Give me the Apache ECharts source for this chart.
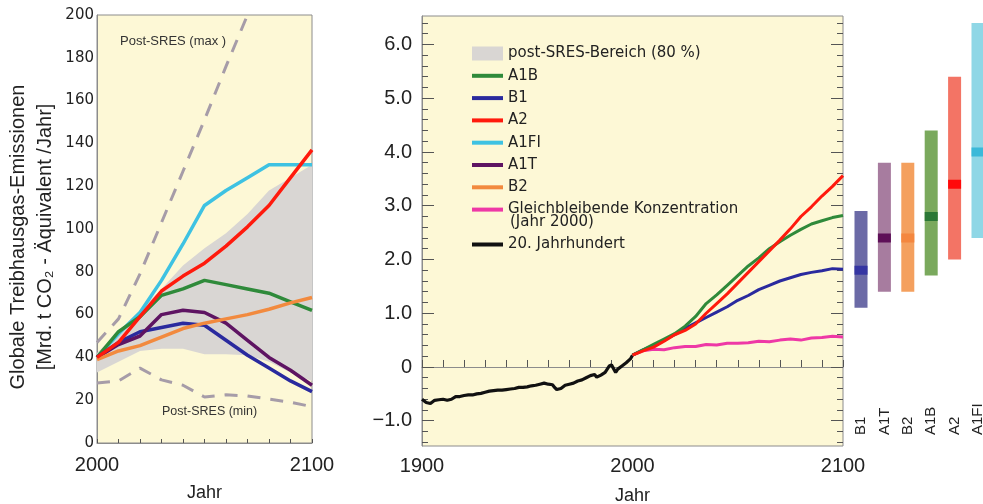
<!DOCTYPE html>
<html><head><meta charset="utf-8">
<script src="https://cdn.jsdelivr.net/npm/echarts@6/dist/echarts.min.js"></script>
<style>html,body{margin:0;padding:0;background:#fff}#c{width:983px;height:504px}</style>
</head><body><div id="c"></div><script>
// ---- Left panel: emissions (Mrd. t CO2-Äq./Jahr)
const emisYears = [2000,2010,2020,2030,2040,2050,2060,2070,2080,2090,2100];
const emisA1FI = [40,51,61,76,93,111,118,124,130,130,130];
const emisA2   = [40,47,59,71,78,84,92,101,111,124,137];
const emisA1B  = [40,52,59,69,72,76,74,72,70,66,62];
const emisA1T  = [40,46,50,60,62,61,56,48,40,34,27];
const emisB1   = [40,47,52,54,56,55,48,41,35,29,24];
const emisB2   = [39,43,45.5,49.5,53.5,56,58,60,62.5,65.5,68];
const bandLow  = [33,38,43,44,44,41.5,41.5,41,38,33,29];
const bandHigh = [42,52,62,72,83,91,98,107,118,124,130];
const postMaxYears = [2000,2010,2020,2030,2040,2050,2060,2070];
const postMax  = [47,58,79,103,127,151,176,200];
const postMin  = [28,29,35,29.5,27,21.5,22.5,22,20.5,19,17];
const emisXLabels = [2000,2100];

// ---- Middle panel: temperature (°C)
const histYears = [1900,1902,1904,1906,1908,1910,1912,1914,1916,1918,1920,1922,1924,1926,1928,1930,1932,1934,1936,1938,1940,1942,1944,1946,1948,1950,1952,1954,1956,1958,1960,1962,1963,1964,1966,1968,1970,1972,1974,1976,1978,1980,1982,1983,1985,1987,1989,1990,1991,1992,1993,1995,1997,1999,2000];
const histTemp = [-0.60,-0.66,-0.68,-0.62,-0.61,-0.60,-0.62,-0.60,-0.55,-0.55,-0.53,-0.52,-0.52,-0.50,-0.49,-0.47,-0.45,-0.44,-0.43,-0.43,-0.42,-0.41,-0.40,-0.38,-0.38,-0.37,-0.35,-0.34,-0.32,-0.30,-0.32,-0.33,-0.38,-0.42,-0.40,-0.34,-0.32,-0.30,-0.26,-0.24,-0.20,-0.16,-0.14,-0.19,-0.15,-0.10,0.02,0.04,-0.03,-0.10,-0.04,0.02,0.08,0.15,0.22];
const scenYears = [2000,2005,2010,2015,2020,2025,2030,2035,2040,2045,2050,2055,2060,2065,2070,2075,2080,2085,2090,2095,2100];
const tA2    = [0.22,0.30,0.37,0.48,0.60,0.68,0.80,1.00,1.18,1.36,1.56,1.76,1.96,2.16,2.36,2.57,2.80,2.98,3.18,3.36,3.56];
const tA1B   = [0.22,0.32,0.42,0.52,0.62,0.76,0.94,1.18,1.34,1.52,1.70,1.88,2.03,2.20,2.33,2.45,2.56,2.66,2.72,2.78,2.82];
const tB1    = [0.22,0.32,0.40,0.50,0.60,0.72,0.82,0.92,1.02,1.12,1.24,1.33,1.44,1.52,1.60,1.66,1.72,1.76,1.79,1.83,1.82];
const tConst = [0.22,0.30,0.33,0.32,0.36,0.38,0.38,0.42,0.41,0.44,0.44,0.45,0.48,0.47,0.50,0.52,0.50,0.54,0.55,0.57,0.56];
const tempYTicks = [-1,0,1,2,3,4,5,6];
const tempXLabels = [1900,2000,2100];

// ---- Right panel: likely ranges (°C)
const rangeNames = ['B1','A1T','B2','A1B','A2','A1FI'];
const rangeIdx  = [0,1,2,3,4,5];
const rangeLow  = [1.1,1.4,1.4,1.7,2.0,2.4];
const rangeHigh = [2.9,3.8,3.8,4.4,5.4,6.4];
const rangeBest = [1.8,2.4,2.4,2.8,3.4,4.0];

// ---- styles
const C = {A1B:'#2f8a3a', B1:'#2a2a9e', A2:'#ff1a0d', A1FI:'#3ec2e2', A1T:'#5e1462', B2:'#f28a3e',
           konst:'#ee38a6', hist:'#111111', band:'#d9d6d3', dash:'#a69ca8', bg:'#fdf8d6'};
const barColors  = ['#6b6aa6','#a77c9f','#f4a05e','#7aa95d','#f37465','#8fd7e6'];
const bestColors = ['#3535a2','#5e1058','#f4873f','#2b7736','#ff0a0a','#3bb9d9'];
const FONT = '"Liberation Sans", Arial, sans-serif';
const WIDE = '"DejaVu Sans", sans-serif';
const zip = (xs, ys) => xs.map((x,i)=>[x, ys[i]]);
const LINEICON = 'path://M0 0H31V4H0Z';

const minorTicks = [];
for (let k = -7; k <= 32; k++) minorTicks.push(Math.round(k*0.2*10)/10);
const TMIN = -1.47, TMAX = 6.53;
const tempFmt = v => v === 0 ? '0' : (v < 0 ? '\u2212' : '') + Math.abs(v).toFixed(1);
const plain = v => String(v);

function lineS(name, xi, yi, data, color, w, extra) {
  return Object.assign({type:'line', name, xAxisIndex:xi, yAxisIndex:yi, data, showSymbol:false, symbol:'none',
    lineStyle:{color, width:w}, itemStyle:{color}, silent:true, emphasis:{disabled:true}}, extra||{});
}

const chart = echarts.init(document.getElementById('c'), null, {renderer:'canvas'});
chart.setOption({
  animation:false,
  textStyle:{fontFamily:FONT},
  grid:[
    {left:97, top:15, width:215, height:428, show:true, backgroundColor:C.bg, borderColor:'#8c8c8c', borderWidth:1, outerBoundsMode:'none', containLabel:false},
    {left:422, top:16, width:421, height:430, show:true, backgroundColor:C.bg, borderColor:'#8c8c8c', borderWidth:1, outerBoundsMode:'none', containLabel:false},
    {left:849, top:16, width:134, height:430, show:false, outerBoundsMode:'none', containLabel:false}
  ],
  xAxis:[
    {gridIndex:0, type:'value', min:2000, max:2100, interval:10,
     axisLine:{lineStyle:{color:'#8c8c8c'}}, splitLine:{show:false},
     axisTick:{inside:true, length:4, lineStyle:{color:'#555'}},
     axisLabel:{customValues:emisXLabels, formatter:plain, fontSize:20, color:'#222', margin:12, fontFamily:FONT},
     name:'Jahr', nameLocation:'middle', nameGap:41, nameTextStyle:{fontSize:18, color:'#222', fontFamily:FONT}},
    {gridIndex:1, type:'value', min:1900, max:2100, interval:10,
     axisLine:{lineStyle:{color:'#8c8c8c'}}, splitLine:{show:false},
     axisTick:{inside:true, length:7, lineStyle:{color:'#555'}},
     axisLabel:{customValues:tempXLabels, formatter:plain, fontSize:20, color:'#222', margin:10, fontFamily:FONT},
     name:'Jahr', nameLocation:'middle', nameGap:41, nameTextStyle:{fontSize:18, color:'#222', fontFamily:FONT}},
    {gridIndex:2, type:'value', min:-0.513, max:5.214,
     axisLine:{show:false}, axisTick:{show:false}, splitLine:{show:false},
     axisLabel:{customValues:rangeIdx, formatter:v=>rangeNames[Math.round(v)], inside:true, rotate:90, margin:11,
                fontSize:15, color:'#222', fontFamily:FONT}}
  ],
  yAxis:[
    {gridIndex:0, type:'value', min:0, max:200, interval:20,
     axisLine:{show:true, lineStyle:{color:'#8c8c8c'}}, axisTick:{show:false}, splitLine:{show:false},
     axisLabel:{fontSize:15, color:'#222', margin:3, fontFamily:WIDE},
     name:'Globale Treibhausgas-Emissionen\n[Mrd. t CO\u2082 - \u00C4quivalent /Jahr]', nameLocation:'middle', nameRotate:90, nameGap:38,
     nameTextStyle:{fontSize:20, lineHeight:27, color:'#222', fontFamily:FONT, padding:[0,16,0,0]}},
    {gridIndex:1, type:'value', min:TMIN, max:TMAX, position:'left',
     axisLine:{show:true, lineStyle:{color:'#8c8c8c'}}, splitLine:{show:false},
     axisTick:{inside:true, length:12, customValues:tempYTicks, lineStyle:{color:'#555'}},
     axisLabel:{customValues:tempYTicks, formatter:tempFmt, fontSize:20, color:'#222', margin:10, fontFamily:FONT}},
    {gridIndex:1, type:'value', min:TMIN, max:TMAX, position:'left',
     axisLine:{show:false}, splitLine:{show:false},
     axisTick:{inside:true, length:6, customValues:minorTicks, lineStyle:{color:'#555'}},
     axisLabel:{show:false}},
    {gridIndex:1, type:'value', min:TMIN, max:TMAX, position:'right',
     axisLine:{show:false}, splitLine:{show:false},
     axisTick:{inside:true, length:12, customValues:tempYTicks, lineStyle:{color:'#555'}},
     axisLabel:{show:false}},
    {gridIndex:1, type:'value', min:TMIN, max:TMAX, position:'right',
     axisLine:{show:false}, splitLine:{show:false},
     axisTick:{inside:true, length:6, customValues:minorTicks, lineStyle:{color:'#555'}},
     axisLabel:{show:false}},
    {gridIndex:2, type:'value', min:TMIN, max:TMAX, show:false}
  ],
  legend:[
    {orient:'vertical', left:472, top:46, padding:0, itemWidth:31, itemHeight:14, itemGap:7.3, itemTextGap:7,
     selectedMode:false, textStyle:{fontSize:15, lineHeight:14, color:'#222', fontFamily:WIDE},
     data:[{name:'post-SRES-Bereich (80 %)', icon:'rect', itemStyle:{color:C.band}},
           {name:'A1B', icon:LINEICON},{name:'B1', icon:LINEICON},{name:'A2', icon:LINEICON},
           {name:'A1FI', icon:LINEICON},{name:'A1T', icon:LINEICON},{name:'B2', icon:LINEICON},
           {name:'Gleichbleibende Konzentration', icon:LINEICON}]},
    {orient:'vertical', left:472, top:237, padding:0, itemWidth:31, itemHeight:14, itemTextGap:7,
     selectedMode:false, textStyle:{fontSize:15, lineHeight:14, color:'#222', fontFamily:WIDE},
     data:[{name:'20. Jahrhundert', icon:LINEICON}]}
  ],
  graphic:[
    {type:'text', left:510, top:215, style:{text:'(Jahr 2000)', fontSize:15, fill:'#222', fontFamily:WIDE}},
    {type:'text', left:120, top:35, style:{text:'Post-SRES (max )', fontSize:13, fill:'#333', fontFamily:FONT}},
    {type:'text', left:162, top:405, style:{text:'Post-SRES (min)', fontSize:12.5, fill:'#333', fontFamily:FONT}}
  ],
  series:[
    // left panel: 80 % range band
    {type:'custom', name:'post-SRES-Bereich (80 %)', xAxisIndex:0, yAxisIndex:0, silent:true,
     itemStyle:{color:C.band},
     data:emisYears.map((y,i)=>[y, bandLow[i], bandHigh[i]]),
     encode:{x:0, y:[1,2]},
     renderItem:(params, api)=>{
       if (params.dataIndexInside !== 0) return null;
       const n = params.dataInsideLength;
       const top = [], bot = [];
       for (let k = 0; k < n; k++) {
         top.push(api.coord([api.value(0,k), api.value(2,k)]));
         bot.push(api.coord([api.value(0,k), api.value(1,k)]));
       }
       return {type:'polygon', shape:{points:top.concat(bot.reverse())}, style:{fill:C.band}};
     }},
    lineS('Post-SRES (max)', 0, 0, zip(postMaxYears, postMax), C.dash, 3, {lineStyle:{color:C.dash, width:3, type:[13,10]}}),
    lineS('Post-SRES (min)', 0, 0, zip(emisYears, postMin), C.dash, 3, {lineStyle:{color:C.dash, width:3, type:[13,10]}}),
    lineS('A1FI', 0, 0, zip(emisYears, emisA1FI), C.A1FI, 3.5),
    lineS('A1B', 0, 0, zip(emisYears, emisA1B), C.A1B, 3.5),
    lineS('B1', 0, 0, zip(emisYears, emisB1), C.B1, 3.5),
    lineS('A1T', 0, 0, zip(emisYears, emisA1T), C.A1T, 3.5),
    lineS('B2', 0, 0, zip(emisYears, emisB2), C.B2, 3.5),
    lineS('A2', 0, 0, zip(emisYears, emisA2), C.A2, 3.5),
    // middle panel
    lineS('20. Jahrhundert', 1, 1, zip(histYears, histTemp), C.hist, 3.2),
    lineS('Gleichbleibende Konzentration', 1, 1, zip(scenYears, tConst), C.konst, 3),
    lineS('B1', 1, 1, zip(scenYears, tB1), C.B1, 3),
    lineS('A1B', 1, 1, zip(scenYears, tA1B), C.A1B, 3),
    lineS('A2', 1, 1, zip(scenYears, tA2), C.A2, 3),
    // right panel
    {type:'custom', name:'Bereiche', xAxisIndex:2, yAxisIndex:5, silent:true,
     data:rangeIdx.map(i=>[i, rangeLow[i], rangeHigh[i], rangeBest[i]]),
     encode:{x:0, y:[1,2,3]},
     renderItem:(params, api)=>{
       const i = api.value(0);
       const lo = api.coord([i, api.value(1)]);
       const hi = api.coord([i, api.value(2)]);
       const be = api.coord([i, api.value(3)]);
       const w = 13;
       return {type:'group', children:[
         {type:'rect', shape:{x:lo[0]-w/2, y:hi[1], width:w, height:lo[1]-hi[1]}, style:{fill:barColors[i]}},
         {type:'rect', shape:{x:be[0]-w/2, y:be[1]-4.5, width:w, height:9}, style:{fill:bestColors[i]}}
       ]};
     }}
  ]
});
</script></body></html>
